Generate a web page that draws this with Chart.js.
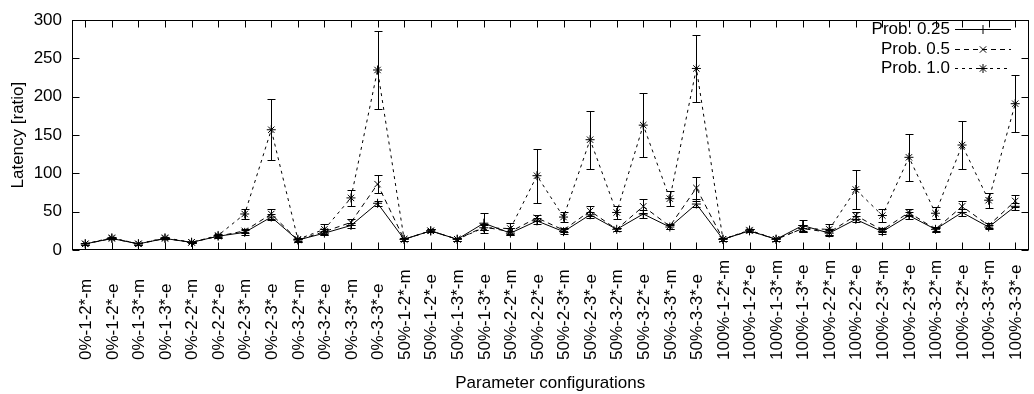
<!DOCTYPE html>
<html>
<head>
<meta charset="utf-8">
<script src="https://cdn.jsdelivr.net/npm/chart.js@4/dist/chart.umd.min.js"></script>
<style>
  html, body { margin: 0; padding: 0; background: #fff; }
  #wrap { width: 1034px; height: 394px; }
</style>
</head>
<body>
<div id="wrap"><canvas id="latency" width="1034" height="394"></canvas></div>
<script>
var configs = [
  '0%-1-2*-m', '0%-1-2*-e', '0%-1-3*-m', '0%-1-3*-e', '0%-2-2*-m', '0%-2-2*-e',
  '0%-2-3*-m', '0%-2-3*-e', '0%-3-2*-m', '0%-3-2*-e', '0%-3-3*-m', '0%-3-3*-e',
  '50%-1-2*-m', '50%-1-2*-e', '50%-1-3*-m', '50%-1-3*-e', '50%-2-2*-m', '50%-2-2*-e',
  '50%-2-3*-m', '50%-2-3*-e', '50%-3-2*-m', '50%-3-2*-e', '50%-3-3*-m', '50%-3-3*-e',
  '100%-1-2*-m', '100%-1-2*-e', '100%-1-3*-m', '100%-1-3*-e', '100%-2-2*-m', '100%-2-2*-e',
  '100%-2-3*-m', '100%-2-3*-e', '100%-3-2*-m', '100%-3-2*-e', '100%-3-3*-m', '100%-3-3*-e'
];

// mean latency ratio per configuration
var prob025 = [8, 15, 8, 15, 10, 18, 23, 43, 13, 22, 32, 61,
               14, 25, 14, 35, 22, 38, 24, 46, 27, 47, 30, 60,
               14, 25, 14, 32, 22, 40, 24, 45, 27, 49, 30, 57];
var prob05  = [8, 15, 8, 15, 10, 18, 25, 47, 13, 24, 36, 86,
               14, 25, 14, 30, 24, 42, 26, 51, 27, 57, 31, 81,
               14, 25, 14, 28, 23, 45, 26, 49, 27, 57, 32, 64];
var prob10  = [8, 16, 8, 16, 10, 19, 47, 157, 14, 27, 68, 235,
               14, 25, 14, 29, 28, 97, 43, 144, 49, 163, 67, 237,
               14, 26, 14, 28, 27, 79, 45, 121, 48, 137, 65, 191];

// +/- deviation
var err025 = [1, 1, 1, 1, 1, 2, 3, 4, 2, 3, 3, 3,
              2, 2, 2, 13, 3, 4, 3, 4, 2, 5, 3, 4,
              2, 2, 2, 7, 4, 4, 3, 4, 2, 4, 3, 5];
var err05  = [1, 1, 1, 1, 1, 2, 3, 7, 2, 3, 4, 12,
              2, 2, 2, 4, 5, 4, 3, 6, 2, 9, 3, 14,
              2, 2, 2, 4, 4, 4, 3, 4, 3, 7, 3, 8];
var err10  = [1, 1, 1, 1, 1, 2, 7, 40, 2, 7, 10, 51,
              2, 2, 2, 3, 7, 35, 7, 38, 8, 42, 10, 44,
              2, 2, 2, 4, 7, 25, 8, 31, 8, 31, 10, 37];

var yTicks = [0, 50, 100, 150, 200, 250, 300];

var FONT = '"Liberation Sans", Arial, sans-serif';
Chart.defaults.font.family = FONT;
Chart.defaults.font.size = 17;
Chart.defaults.color = '#000';

function series(label, data, errors, style, dash) {
  return {
    label: label,
    data: data,
    errors: errors,
    borderColor: '#000',
    borderWidth: 1,
    borderDash: dash,
    pointStyle: style,
    pointRadius: 4.5,
    pointHoverRadius: 4.5,
    pointBorderWidth: 1,
    pointBorderColor: '#000',
    pointBackgroundColor: 'rgba(0,0,0,0)',
    fill: false,
    tension: 0
  };
}

// frame, inward ticks, rotated category labels, error bars, key
var gnuplotLook = {
  id: 'gnuplotLook',
  afterDatasetsDraw: function (chart) {
    var ctx = chart.ctx;
    var ys = chart.scales.y;
    ctx.save();
    ctx.strokeStyle = '#000';
    ctx.lineWidth = 1;
    chart.data.datasets.forEach(function (ds, i) {
      var meta = chart.getDatasetMeta(i);
      ds.errors.forEach(function (e, j) {
        var px = Math.round(meta.data[j].x) + 0.5;
        var top = Math.round(ys.getPixelForValue(ds.data[j] + e)) + 0.5;
        var bot = Math.round(ys.getPixelForValue(ds.data[j] - e)) + 0.5;
        ctx.beginPath();
        ctx.moveTo(px, top); ctx.lineTo(px, bot);
        ctx.moveTo(px - 4, top); ctx.lineTo(px + 4, top);
        ctx.moveTo(px - 4, bot); ctx.lineTo(px + 4, bot);
        ctx.stroke();
      });
    });
    ctx.restore();
  },
  afterDraw: function (chart) {
    var ctx = chart.ctx;
    var a = chart.chartArea;
    var xs = chart.scales.x, ys = chart.scales.y;
    var L = Math.round(a.left) + 0.5, R = Math.round(a.right) - 0.5;
    var T = Math.round(a.top) + 0.5, B = Math.round(a.bottom) - 0.5;
    ctx.save();
    ctx.strokeStyle = '#000';
    ctx.lineWidth = 1;
    ctx.strokeRect(L, T, R - L, B - T);

    ctx.beginPath();
    configs.forEach(function (c, i) {
      var px = Math.round(xs.getPixelForValue(i)) + 0.5;
      ctx.moveTo(px, B); ctx.lineTo(px, B - 7);
      ctx.moveTo(px, T); ctx.lineTo(px, T + 7);
    });
    yTicks.forEach(function (v) {
      var py = Math.round(ys.getPixelForValue(v)) + 0.5;
      ctx.moveTo(L, py); ctx.lineTo(L + 7, py);
      ctx.moveTo(R, py); ctx.lineTo(R - 7, py);
    });
    ctx.stroke();

    // category labels, read bottom to top
    ctx.fillStyle = '#000';
    ctx.font = '17px ' + FONT;
    ctx.textAlign = 'left';
    ctx.textBaseline = 'middle';
    configs.forEach(function (c, i) {
      ctx.save();
      ctx.translate(xs.getPixelForValue(i) + 1, 360);
      ctx.rotate(-Math.PI / 2);
      ctx.fillText(c, 0, 0);
      ctx.restore();
    });

    // key
    ctx.textAlign = 'right';
    chart.data.datasets.forEach(function (ds, i) {
      var y = Math.round(29 + i * 19.5) + 0.5;
      ctx.fillText(ds.label, 950, y);
      ctx.beginPath();
      ctx.setLineDash(ds.borderDash || []);
      ctx.moveTo(955, y); ctx.lineTo(1011, y);
      ctx.stroke();
      ctx.setLineDash([]);
      Chart.helpers.drawPoint(ctx, { pointStyle: ds.pointStyle, radius: 4.5, rotation: 0, borderWidth: 1 }, 983, y);
    });
    ctx.restore();
  }
};

new Chart(document.getElementById('latency'), {
  type: 'line',
  data: {
    labels: configs,
    datasets: [
      series('Prob. 0.25', prob025, err025, 'cross', []),
      series('Prob. 0.5', prob05, err05, 'crossRot', [5, 4]),
      series('Prob. 1.0', prob10, err10, 'star', [3, 4])
    ]
  },
  options: {
    responsive: false,
    animation: false,
    devicePixelRatio: 1,
    layout: { padding: { top: 10, right: 2, left: 0, bottom: 0 } },
    plugins: { legend: { display: false }, tooltip: { enabled: false } },
    scales: {
      x: {
        type: 'category',
        offset: true,
        grid: { display: false },
        border: { display: false },
        ticks: { display: false },
        title: { display: true, text: 'Parameter configurations', padding: { top: 6, bottom: 0 } },
        afterFit: function (scale) { scale.height = 144; }
      },
      y: {
        min: 0,
        max: 300,
        grid: { display: false, drawTicks: false },
        border: { display: false },
        ticks: { stepSize: 50, padding: 10 },
        title: { display: true, text: 'Latency [ratio]', padding: { top: 8, bottom: 0 } },
        afterFit: function (scale) { scale.width = 72; }
      }
    }
  },
  plugins: [gnuplotLook]
});
</script>
</body>
</html>
